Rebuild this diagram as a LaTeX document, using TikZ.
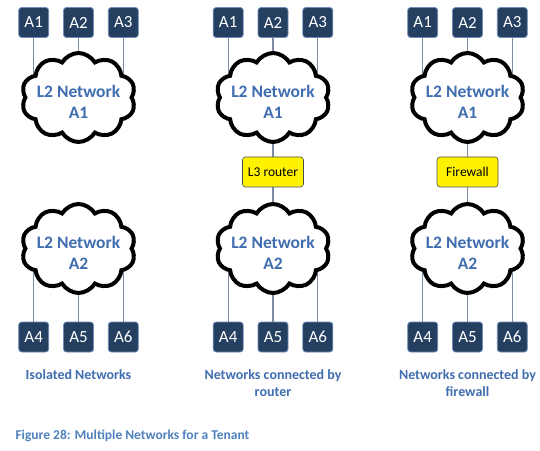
\documentclass[tikz,border=0pt]{standalone}
\usepackage{fontspec}
\setmainfont{Carlito}
\usepackage{xcolor}
\usepackage{tikz}
\usetikzlibrary{positioning,shapes.symbols,backgrounds}

\definecolor{hostnavy}{HTML}{243F60}
\definecolor{hostedge}{HTML}{6F8DB8}
\definecolor{netblue}{HTML}{3F6DB0}
\definecolor{capblue}{HTML}{4F81BD}
\definecolor{linkgray}{HTML}{7D8CA3}

\begin{document}
\begin{tikzpicture}[
					x=1pt, y=1pt,
					hostbox/.style={
						rectangle, rounded corners=3pt,
						fill=hostnavy, draw=hostedge, line width=0.8pt,
						minimum width=30pt, minimum height=30pt, inner sep=0pt,
						text=white, font=\fontsize{17}{17}\selectfont
					},
					netcloud/.style={
						cloud, cloud puffs=10, cloud puff arc=120, cloud ignores aspect,
						draw=black, line width=4pt, fill=white,
						minimum width=114pt, minimum height=89pt, inner sep=0pt
					},
					nettext/.style={
						align=center, text=netblue, yshift=-4pt,
						font=\fontsize{17.5}{21}\selectfont\bfseries
					},
					devbox/.style={
						rectangle, rounded corners=3pt,
						fill=yellow, draw=black!70, line width=0.6pt,
						minimum width=61pt, minimum height=30pt,
						font=\fontsize{13.5}{13.5}\selectfont
					},
					link/.style={draw=linkgray, line width=1.3pt},
					caplabel/.style={
						anchor=north, align=center, text=netblue,
						font=\fontsize{14}{17}\selectfont\bfseries
					}
					]
					\useasboundingbox (0,0) rectangle (540,450);
					
					% --- column 1: isolated ---
					\begin{scope}[xshift=78.5pt]
						\node[hostbox] (iA2) at (0,427.5) {A2};
						\node[hostbox, left=14pt of iA2] (iA1) {A1};
						\node[hostbox, right=14pt of iA2] (iA3) {A3};
						\node[netcloud, label={[nettext]center:{L2 Network\\A1}}] (inetA) at (0,352.5) {};
						\node[netcloud, label={[nettext]center:{L2 Network\\A2}}] (inetB) at (0,201.5) {};
						\node[hostbox] (iA5) at (0,113) {A5};
						\node[hostbox, left=14pt of iA5] (iA4) {A4};
						\node[hostbox, right=14pt of iA5] (iA6) {A6};
						\node[caplabel] (icap) at (0,84) {Isolated Networks};
						\begin{scope}[on background layer]
							\foreach \h in {1,2,3} \draw[link] (iA\h) -- (iA\h |- inetA.center);
							\foreach \h in {4,5,6} \draw[link] (iA\h) -- (iA\h |- inetB.center);
						\end{scope}
					\end{scope}
					
					% --- column 2: router ---
					\begin{scope}[xshift=273pt]
						\node[hostbox] (rA2) at (0,427.5) {A2};
						\node[hostbox, left=14pt of rA2] (rA1) {A1};
						\node[hostbox, right=14pt of rA2] (rA3) {A3};
						\node[netcloud, label={[nettext]center:{L2 Network\\A1}}] (rnetA) at (0,352.5) {};
						\node[devbox] (router) at (0,278) {L3 router};
						\node[netcloud, label={[nettext]center:{L2 Network\\A2}}] (rnetB) at (0,201.5) {};
						\node[hostbox] (rA5) at (0,113) {A5};
						\node[hostbox, left=14pt of rA5] (rA4) {A4};
						\node[hostbox, right=14pt of rA5] (rA6) {A6};
						\node[caplabel] (rcap) at (0,84) {Networks connected by\\router};
						\begin{scope}[on background layer]
							\foreach \h in {1,2,3} \draw[link] (rA\h) -- (rA\h |- rnetA.center);
							\foreach \h in {4,5,6} \draw[link] (rA\h) -- (rA\h |- rnetB.center);
							\draw[link] (rnetA.center) -- (router) -- (rnetB.center);
						\end{scope}
					\end{scope}
					
					% --- column 3: firewall ---
					\begin{scope}[xshift=467.5pt]
						\node[hostbox] (fA2) at (0,427.5) {A2};
						\node[hostbox, left=14pt of fA2] (fA1) {A1};
						\node[hostbox, right=14pt of fA2] (fA3) {A3};
						\node[netcloud, label={[nettext]center:{L2 Network\\A1}}] (fnetA) at (0,352.5) {};
						\node[devbox] (firewall) at (0,278) {Firewall};
						\node[netcloud, label={[nettext]center:{L2 Network\\A2}}] (fnetB) at (0,201.5) {};
						\node[hostbox] (fA5) at (0,113) {A5};
						\node[hostbox, left=14pt of fA5] (fA4) {A4};
						\node[hostbox, right=14pt of fA5] (fA6) {A6};
						\node[caplabel] (fcap) at (0,84) {Networks connected by\\firewall};
						\begin{scope}[on background layer]
							\foreach \h in {1,2,3} \draw[link] (fA\h) -- (fA\h |- fnetA.center);
							\foreach \h in {4,5,6} \draw[link] (fA\h) -- (fA\h |- fnetB.center);
							\draw[link] (fnetA.center) -- (firewall) -- (fnetB.center);
						\end{scope}
					\end{scope}
					
					% --- figure caption ---
					\node[anchor=west, text=capblue, font=\fontsize{13.5}{15}\selectfont\bfseries] (figcap) at (12,14) {Figure 28: Multiple Networks for a Tenant};
					
				\end{tikzpicture}
\end{document}
